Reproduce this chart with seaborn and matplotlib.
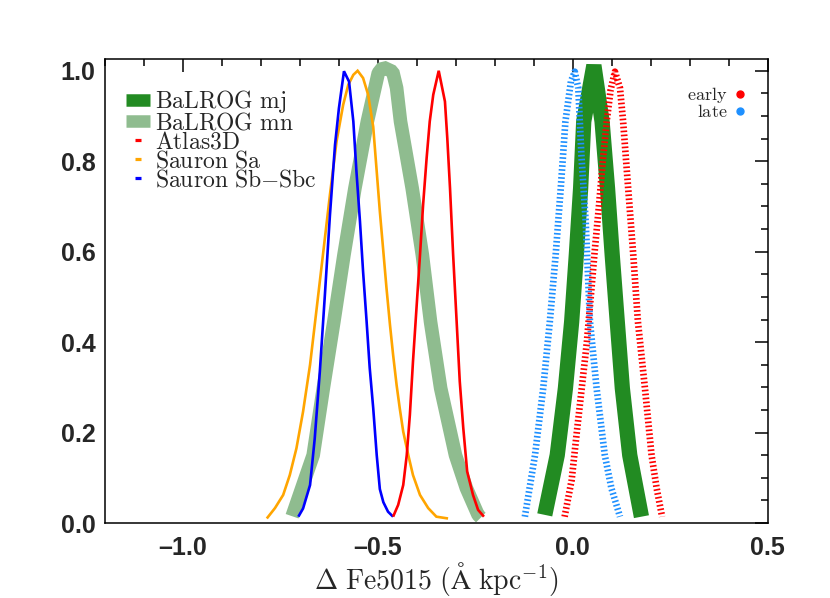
import numpy as np
import pandas as pd
import matplotlib
matplotlib.use("Agg")
import matplotlib.pyplot as plt
import seaborn as sns
from matplotlib.lines import Line2D
from matplotlib.ticker import MultipleLocator, FuncFormatter

# Curves (x = delta Fe5015, y = normalised)
mj_x = [-0.072, -0.040, -0.019, -0.003, 0.009, 0.020, 0.028, 0.054,
        0.075, 0.089, 0.101, 0.114, 0.127, 0.146, 0.176]
mj_y = [0.018, 0.150, 0.298, 0.445, 0.593, 0.740, 0.888, 1.012,
        0.888, 0.740, 0.593, 0.445, 0.298, 0.150, 0.014]

mn_x = [-0.720, -0.666, -0.640, -0.613, -0.587, -0.559, -0.527, -0.499, -0.487, -0.462,
        -0.452, -0.442, -0.412, -0.386, -0.365, -0.339, -0.301, -0.273, -0.243, -0.236]
mn_y = [0.015, 0.150, 0.298, 0.445, 0.593, 0.740, 0.888, 0.995, 1.008, 0.998,
        0.962, 0.888, 0.740, 0.593, 0.445, 0.298, 0.150, 0.077, 0.018, 0.012]

atlas_x = [-0.461, -0.448, -0.435, -0.426, -0.418, -0.410, -0.401, -0.392, -0.384, -0.375,
           -0.367, -0.358, -0.344, -0.328, -0.322, -0.315, -0.307, -0.298, -0.290,
           -0.281, -0.271, -0.256, -0.243, -0.228]
atlas_y = [0.014, 0.040, 0.084, 0.150, 0.239, 0.357, 0.475, 0.593, 0.704, 0.807,
           0.888, 0.947, 1.0, 0.932, 0.851, 0.740, 0.593, 0.445, 0.313,
           0.210, 0.114, 0.062, 0.029, 0.014]

sa_x = [-0.785, -0.764, -0.743, -0.726, -0.709, -0.692, -0.674, -0.657, -0.640, -0.623,
        -0.606, -0.589, -0.576, -0.563, -0.552, -0.538, -0.525, -0.512, -0.503, -0.495,
        -0.486, -0.478, -0.469, -0.461, -0.452, -0.444, -0.435, -0.422, -0.410, -0.392,
        -0.371, -0.350, -0.320]
sa_y = [0.010, 0.033, 0.062, 0.106, 0.165, 0.246, 0.350, 0.475, 0.600, 0.726,
        0.844, 0.925, 0.969, 0.991, 1.0, 0.984, 0.947, 0.876, 0.777, 0.689,
        0.600, 0.520, 0.438, 0.372, 0.305, 0.254, 0.202, 0.150, 0.106, 0.062,
        0.033, 0.014, 0.010]

sb_x = [-0.704, -0.692, -0.674, -0.662, -0.649, -0.636, -0.623, -0.610, -0.600, -0.587,
        -0.574, -0.563, -0.555, -0.546, -0.538, -0.529, -0.521, -0.512, -0.503, -0.495,
        -0.486, -0.474, -0.461]
sb_y = [0.014, 0.032, 0.084, 0.187, 0.334, 0.504, 0.681, 0.836, 0.917, 0.999,
        0.976, 0.888, 0.777, 0.667, 0.556, 0.446, 0.343, 0.254, 0.150, 0.075,
        0.046, 0.025, 0.014]

late_x = [-0.123, -0.097, -0.076, -0.059, -0.044, -0.031, -0.019, -0.005, 0.005,
          0.014, 0.022, 0.033, 0.044, 0.061, 0.082, 0.099, 0.121]
late_y = [0.014, 0.150, 0.298, 0.445, 0.593, 0.740, 0.888, 0.976, 0.998,
          0.962, 0.814, 0.667, 0.445, 0.298, 0.150, 0.077, 0.014]

early_x = [-0.021, -0.003, 0.010, 0.023, 0.036, 0.046, 0.056, 0.067, 0.077, 0.087, 0.097, 0.108,
           0.121, 0.129, 0.142, 0.155, 0.167, 0.185, 0.202, 0.215, 0.229]
early_y = [0.014, 0.095, 0.199, 0.299, 0.400, 0.500, 0.600, 0.701, 0.801, 0.889, 0.958, 0.998,
           0.962, 0.888, 0.740, 0.593, 0.445, 0.298, 0.150, 0.077, 0.014]

sns.set_style("white")
plt.rcParams["mathtext.fontset"] = "cm"
plt.rcParams["font.family"] = ["Liberation Sans", "DejaVu Sans"]
# bold only while the tick labels get created
plt.rcParams["font.weight"] = "bold"

fig = plt.figure(figsize=(8.3, 5.98), dpi=100)
ax = fig.add_axes([0.1265, 0.1254, 0.7985, 0.7763])

dot = (0, (0.25, 0.35))
curves = [
    (mn_x, mn_y, "#8FBC8F", 9.8, "-"),
    (mj_x, mj_y, "#228B22", 11.0, "-"),
    (late_x, late_y, "#1E90FF", 4.8, dot),
    (early_x, early_y, "#FF0000", 4.8, dot),
    (sa_x, sa_y, "#FFA500", 1.9, "-"),
    (sb_x, sb_y, "#0000FF", 1.9, "-"),
    (atlas_x, atlas_y, "#FF0000", 1.9, "-"),
]
for xs, ys, col, lw, ls in curves:
    df = pd.DataFrame({"x": xs, "y": ys})
    join = "bevel" if lw > 5 else "miter"
    sns.lineplot(data=df, x="x", y="y", sort=False, estimator=None, ax=ax,
                 color=col, linewidth=lw, linestyle=ls, solid_joinstyle=join,
                 dash_capstyle="butt", solid_capstyle="butt")

ax.set_xlim(-1.2, 0.5)
ax.set_ylim(0, 1.0265)
ax.xaxis.set_major_locator(MultipleLocator(0.5))
ax.xaxis.set_minor_locator(MultipleLocator(0.1))
ax.yaxis.set_major_locator(MultipleLocator(0.2))
ax.yaxis.set_minor_locator(MultipleLocator(0.05))
ax.xaxis.set_major_formatter(FuncFormatter(lambda v, p: f"{v:.1f}".replace("-", "\u2013")))
ax.yaxis.set_major_formatter(FuncFormatter(lambda v, p: f"{v:.1f}"))
ax.tick_params(which="both", direction="in", top=True, right=True, width=1.1, color="black")
ax.tick_params(which="major", length=9.5, labelsize=18)
ax.tick_params(axis="x", which="major", pad=9)
ax.tick_params(axis="y", which="major", pad=7)
ax.tick_params(which="minor", length=5)
for s in ax.spines.values():
    s.set_linewidth(1.1)
    s.set_color("black")

for lab in ax.get_xticklabels() + ax.get_yticklabels():
    lab.set_fontweight("bold")
plt.rcParams["font.weight"] = "normal"

ax.set_xlabel(r"$\Delta\ \mathrm{Fe5015\ (\AA\ kpc^{-1})}$", fontsize=20,
              labelpad=0, fontweight="normal")
ax.set_ylabel("")

handles = [
    Line2D([], [], color="#228B22", lw=9, solid_capstyle="butt"),
    Line2D([], [], color="#8FBC8F", lw=9, solid_capstyle="butt"),
    Line2D([], [], color="#FF0000", lw=0, marker="_", markersize=5, markeredgewidth=2.3),
    Line2D([], [], color="#FFA500", lw=0, marker="_", markersize=5, markeredgewidth=2.3),
    Line2D([], [], color="#0000FF", lw=0, marker="_", markersize=5, markeredgewidth=2.3),
]
labels = [r"$\mathrm{BaLROG\ mj}$", r"$\mathrm{BaLROG\ mn}$", r"$\mathrm{Atlas3D}$",
          r"$\mathrm{Sauron\ Sa}$", r"$\mathrm{Sauron\ Sb{-}Sbc}$"]
leg1 = ax.legend(handles, labels, loc="upper left", bbox_to_anchor=(0.032, 0.936),
                 frameon=False, handlelength=1.0, handletextpad=0.2,
                 labelspacing=-0.13, borderaxespad=0, borderpad=0,
                 prop={"size": 17, "weight": "normal"})
ax.add_artist(leg1)

h2 = [Line2D([], [], color="#FF0000", lw=0, marker="o", markersize=5),
      Line2D([], [], color="#1E90FF", lw=0, marker="o", markersize=5)]
ax.legend(h2, [r"$\mathrm{early}$", r"$\mathrm{late}$"], loc="upper right",
          bbox_to_anchor=(0.966, 0.943), frameon=False, markerfirst=False,
          handlelength=0.6, handletextpad=0.4, labelspacing=-0.05, borderaxespad=0,
          borderpad=0, prop={"size": 13, "weight": "normal"})

fig.savefig("out.png", dpi=100)
